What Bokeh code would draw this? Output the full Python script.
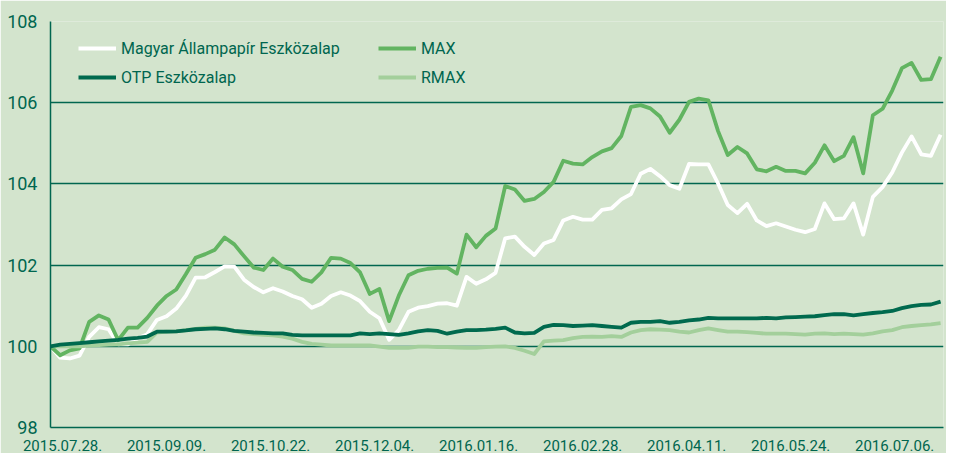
import pandas as pd
from bokeh.plotting import figure
from bokeh.models import Range1d, FixedTicker, Legend, LegendItem
from bokeh.embed import file_html
from bokeh.resources import INLINE

# ---- data -------------------------------------------------------------
START = "2015-07-28"
N_POINTS = 93
STEP = "4D"

mae = [100.00, 99.72, 99.70, 99.77, 100.23, 100.47, 100.42, 100.05, 100.05, 100.19,
       100.30, 100.65, 100.74, 100.93, 101.25, 101.69, 101.70, 101.83, 101.97, 101.96,
       101.64, 101.46, 101.33, 101.43, 101.35, 101.24, 101.16, 100.95, 101.05, 101.24,
       101.33, 101.25, 101.11, 100.85, 100.69, 100.16, 100.40, 100.85, 100.95, 100.99,
       101.05, 101.06, 101.00, 101.71, 101.54, 101.65, 101.81, 102.66, 102.70, 102.45,
       102.25, 102.53, 102.62, 103.10, 103.19, 103.12, 103.12, 103.36, 103.40, 103.62,
       103.75, 104.25, 104.37, 104.19, 103.97, 103.88, 104.49, 104.48, 104.48, 104.01,
       103.48, 103.28, 103.51, 103.10, 102.96, 103.03, 102.95, 102.87, 102.81, 102.89,
       103.52, 103.13, 103.15, 103.52, 102.75, 103.68, 103.92, 104.28, 104.77, 105.17,
       104.73, 104.69, 105.21]

max_fund = [100.00, 99.78, 99.90, 99.95, 100.60, 100.76, 100.66, 100.15, 100.46, 100.46,
            100.70, 101.00, 101.24, 101.40, 101.78, 102.18, 102.27, 102.38, 102.68, 102.51,
            102.22, 101.94, 101.88, 102.16, 101.96, 101.88, 101.66, 101.59, 101.82, 102.18,
            102.16, 102.05, 101.82, 101.29, 101.41, 100.62, 101.25, 101.75, 101.86, 101.91,
            101.93, 101.94, 101.79, 102.75, 102.44, 102.72, 102.90, 103.95, 103.86, 103.58,
            103.63, 103.80, 104.05, 104.57, 104.50, 104.48, 104.66, 104.80, 104.88, 105.18,
            105.90, 105.94, 105.86, 105.66, 105.26, 105.58, 106.02, 106.10, 106.06, 105.30,
            104.71, 104.91, 104.75, 104.36, 104.31, 104.42, 104.32, 104.32, 104.26, 104.52,
            104.95, 104.56, 104.69, 105.15, 104.26, 105.69, 105.85, 106.30, 106.85, 106.98,
            106.56, 106.58, 107.13]

otp = [100.00, 100.04, 100.06, 100.08, 100.10, 100.12, 100.14, 100.16, 100.19, 100.21,
       100.24, 100.36, 100.36, 100.37, 100.39, 100.42, 100.43, 100.44, 100.42, 100.38,
       100.36, 100.34, 100.33, 100.32, 100.32, 100.28, 100.27, 100.27, 100.27, 100.27,
       100.27, 100.27, 100.32, 100.30, 100.32, 100.30, 100.28, 100.32, 100.37, 100.40,
       100.38, 100.31, 100.36, 100.40, 100.40, 100.41, 100.43, 100.46, 100.34, 100.32,
       100.33, 100.48, 100.53, 100.52, 100.50, 100.51, 100.52, 100.50, 100.48, 100.46,
       100.58, 100.60, 100.60, 100.62, 100.58, 100.60, 100.64, 100.66, 100.70, 100.69,
       100.69, 100.69, 100.69, 100.69, 100.70, 100.69, 100.71, 100.72, 100.73, 100.74,
       100.77, 100.79, 100.79, 100.76, 100.79, 100.82, 100.84, 100.87, 100.94, 100.99,
       101.02, 101.03, 101.10]

rmax = [100.00, 100.00, 100.00, 100.00, 100.02, 100.03, 100.04, 100.05, 100.07, 100.09,
        100.11, 100.34, 100.36, 100.37, 100.40, 100.43, 100.46, 100.46, 100.44, 100.38,
        100.32, 100.30, 100.28, 100.27, 100.24, 100.19, 100.11, 100.06, 100.04, 100.02,
        100.02, 100.02, 100.02, 100.02, 99.99, 99.96, 99.96, 99.96, 99.99, 99.99,
        99.98, 99.98, 99.97, 99.96, 99.96, 99.98, 99.99, 100.00, 99.96, 99.89,
        99.81, 100.12, 100.14, 100.15, 100.20, 100.23, 100.24, 100.23, 100.25, 100.23,
        100.34, 100.40, 100.42, 100.41, 100.40, 100.36, 100.34, 100.40, 100.44, 100.40,
        100.36, 100.36, 100.35, 100.33, 100.31, 100.31, 100.31, 100.30, 100.29, 100.31,
        100.32, 100.30, 100.31, 100.30, 100.29, 100.32, 100.37, 100.40, 100.47, 100.50,
        100.52, 100.54, 100.57]

tick_dates = ["2015-07-28", "2015-09-09", "2015-10-22", "2015-12-04", "2016-01-16",
              "2016-02-28", "2016-04-11", "2016-05-24", "2016-07-06"]
tick_labels = ["2015.07.28.", "2015.09.09.", "2015.10.22.", "2015.12.04.", "2016.01.16.",
               "2016.02.28.", "2016.04.11.", "2016.05.24.", "2016.07.06."]
y_ticks = [98, 100, 102, 104, 106, 108]

series_names = ["Magyar Állampapír Eszközalap", "OTP Eszközalap", "MAX", "RMAX"]

# ---- styling ----------------------------------------------------------
BG = "#d3e4cd"
TEAL = "#00664f"
C_MAE = "#ffffff"
C_MAX = "#62b461"
C_OTP = "#006a4e"
C_RMAX = "#a3cf9b"
FONT = "Roboto"
DAY_MS = 86400000

dates = pd.date_range(START, periods=N_POINTS, freq=STEP)
start = pd.Timestamp(START)

p = figure(width=946, height=453, output_backend="svg", toolbar_location=None,
           x_axis_type="datetime",
           x_range=Range1d(start, start + pd.Timedelta(days=369.2)),
           y_range=Range1d(98, 108),
           min_border_left=50, min_border_right=3, min_border_top=21, min_border_bottom=25)

p.background_fill_color = BG
p.border_fill_color = BG
p.outline_line_color = None

lw = 3.8
r_mae = p.line(dates, mae, line_color=C_MAE, line_width=lw, line_join="round")
r_max = p.line(dates, max_fund, line_color=C_MAX, line_width=lw, line_join="round")
r_rmax = p.line(dates, rmax, line_color=C_RMAX, line_width=lw, line_join="round")
r_otp = p.line(dates, otp, line_color=C_OTP, line_width=lw, line_join="round")

# y axis
p.yaxis.ticker = FixedTicker(ticks=y_ticks)
p.ygrid.ticker = FixedTicker(ticks=y_ticks)
p.ygrid.grid_line_color = TEAL
p.ygrid.grid_line_width = 1.3
p.xgrid.visible = False

# x axis ticks: label centres sit a few days right of each date
tick_ms = [int(pd.Timestamp(d).value // 10**6) + 5 * DAY_MS for d in tick_dates]
p.xaxis.ticker = FixedTicker(ticks=tick_ms)
p.xaxis.major_label_overrides = {t: lab for t, lab in zip(tick_ms, tick_labels)}

for ax in (p.xaxis[0], p.yaxis[0]):
    ax.axis_line_color = TEAL
    ax.axis_line_width = 1.5
    ax.major_tick_line_color = None
    ax.minor_tick_line_color = None
    ax.major_label_text_color = TEAL
    ax.major_label_text_font = FONT

p.yaxis.major_label_text_font_size = "18px"
p.yaxis.major_label_standoff = 7
p.xaxis.major_label_text_font_size = "15px"
p.xaxis.major_label_standoff = 6

# legends (two columns)
def make_legend(items, loc):
    lg = Legend(items=items, location=loc)
    lg.label_text_font = FONT
    lg.label_text_font_size = "16px"
    lg.label_text_color = TEAL
    lg.glyph_width = 38
    lg.glyph_height = 20
    lg.label_height = 20
    lg.label_standoff = 5
    lg.spacing = 9
    lg.padding = 0
    lg.margin = 0
    lg.border_line_color = None
    lg.background_fill_alpha = 0
    return lg

leg1 = make_legend([LegendItem(label=series_names[0], renderers=[r_mae]),
                    LegendItem(label=series_names[1], renderers=[r_otp])], (28, 340))
leg2 = make_legend([LegendItem(label=series_names[2], renderers=[r_max]),
                    LegendItem(label=series_names[3], renderers=[r_rmax])], (328, 340))
p.add_layout(leg1)
p.add_layout(leg2)

open("out.html", "w").write(file_html(p, INLINE))
